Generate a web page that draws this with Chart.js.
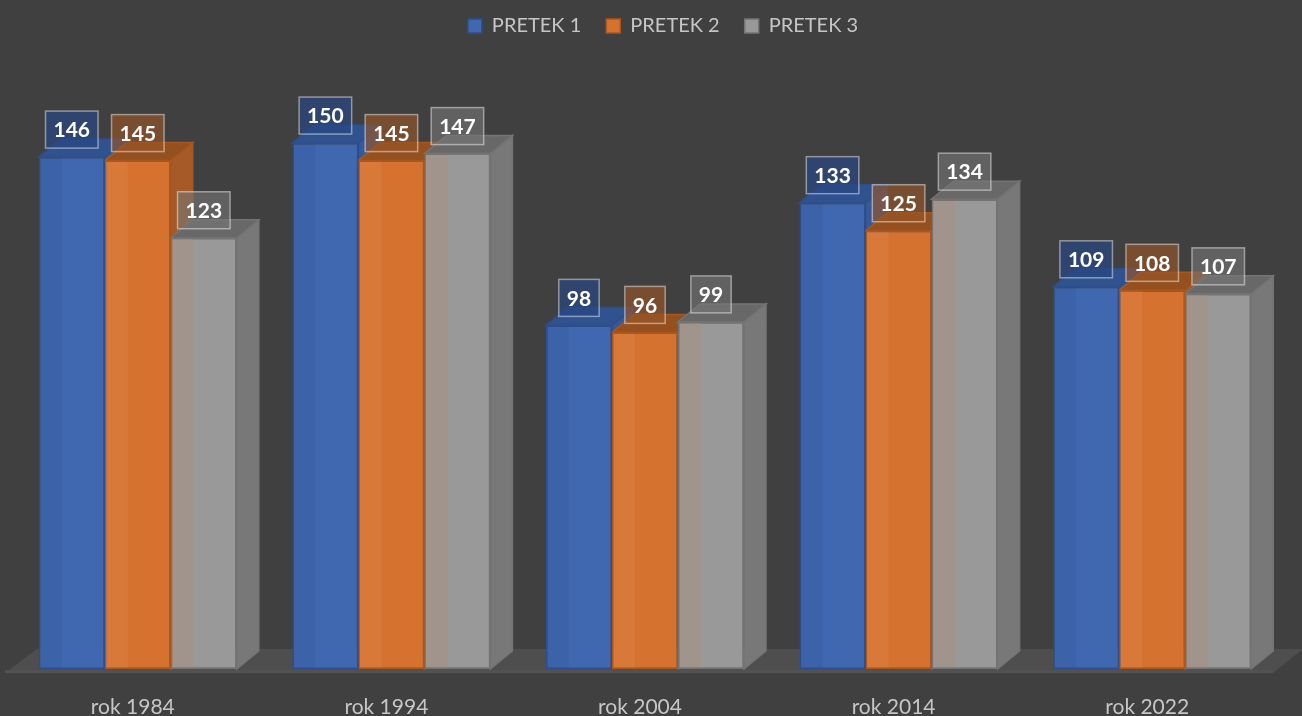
<!DOCTYPE html>
<html>
<head>
<meta charset="utf-8">
<script src="https://cdn.jsdelivr.net/npm/chart.js@4.4.0/dist/chart.umd.min.js"></script>
<style>
    html, body { margin: 0; padding: 0; background: #404040; }
    #contenedor { width: 1302px; height: 716px; position: relative; }
</style>
</head>
<body>
<div id="contenedor"><canvas id="grafico"></canvas></div>
<script>
// Datos
const categories = ['rok 1984', 'rok 1994', 'rok 2004', 'rok 2014', 'rok 2022'];
const seriesNames = ['PRETEK 1', 'PRETEK 2', 'PRETEK 3'];
const pretek1 = [146, 150, 98, 133, 109];
const pretek2 = [145, 145, 96, 125, 108];
const pretek3 = [123, 147, 99, 134, 107];

// Colores por serie: frente, borde, cara superior, cara lateral, caja de etiqueta
const frontColor = ['#4068b0', '#d6722f', '#999999'];
const borderColor = ['#2e4e8c', '#a9561f', '#747474'];
const topColor = ['#30528f', '#95501f', '#686868'];
const sideColor = ['#36599a', '#a65a27', '#787878'];
const labelFill = ['rgba(40,70,130,0.72)', 'rgba(150,85,40,0.66)', 'rgba(118,118,118,0.62)'];
// tinte de la pared interior que se ve a traves del frente (semi transparente)
const innerTint = ['rgba(0,0,40,0.05)', 'rgba(255,255,255,0.05)', 'rgba(214,116,50,0.12)'];

const DX = 22;   // profundidad 3D horizontal
const DY = 18;   // profundidad 3D vertical

// Suelo y caras 3D (se dibujan antes que los frentes de Chart.js)
const barras3d = {
    id: 'barras3d',
    beforeInit(chart) {
        // Agranda la leyenda para dejar el area del grafico donde esta en la referencia
        const fit = chart.legend.fit;
        chart.legend.fit = function () {
            fit.call(this);
            this.height = 117;
        };
    },
    afterLayout(chart) {
        // la leyenda de la referencia no esta centrada del todo
        chart.legend.left += 18;
        chart.legend.right += 18;
    },
    beforeDatasetsDraw(chart) {
        const ctx = chart.ctx;
        const area = chart.chartArea;
        const base = chart.scales.y.getPixelForValue(0);
        ctx.save();
        // suelo
        ctx.fillStyle = '#4e4e4e';
        ctx.beginPath();
        ctx.moveTo(area.left - 6, base + 4);
        ctx.lineTo(area.right - 6, base + 4);
        ctx.lineTo(area.right + 24, base - 20);
        ctx.lineTo(area.left + 26, base - 20);
        ctx.closePath();
        ctx.fill();
        ctx.fillStyle = '#525252';
        ctx.fillRect(area.left - 6, base + 1, area.right - area.left, 3);

        // caras superiores y laterales, de izquierda a derecha
        const metas = chart.data.datasets.map((d, i) => chart.getDatasetMeta(i));
        categories.forEach((c, j) => {
            metas.forEach((meta, i) => {
                const bar = meta.data[j];
                const p = bar.getProps(['x', 'y', 'base', 'width'], true);
                const l = p.x - p.width / 2, r = p.x + p.width / 2;
                ctx.lineWidth = 1.5;
                ctx.strokeStyle = borderColor[i];
                // lateral
                ctx.fillStyle = sideColor[i];
                ctx.beginPath();
                ctx.moveTo(r, p.y);
                ctx.lineTo(r + DX, p.y - DY);
                ctx.lineTo(r + DX, p.base - DY);
                ctx.lineTo(r, p.base);
                ctx.closePath();
                ctx.fill();
                ctx.stroke();
                // superior
                ctx.fillStyle = topColor[i];
                ctx.beginPath();
                ctx.moveTo(l, p.y);
                ctx.lineTo(l + DX, p.y - DY);
                ctx.lineTo(r + DX, p.y - DY);
                ctx.lineTo(r, p.y);
                ctx.closePath();
                ctx.fill();
                ctx.stroke();
            });
        });
        ctx.restore();
    },
    afterDatasetsDraw(chart) {
        const ctx = chart.ctx;
        ctx.save();
        // franja interior en el frente de cada barra
        chart.data.datasets.forEach((ds, i) => {
            chart.getDatasetMeta(i).data.forEach((bar) => {
                const p = bar.getProps(['x', 'y', 'base', 'width'], true);
                const l = p.x - p.width / 2;
                ctx.fillStyle = innerTint[i];
                ctx.fillRect(l + 1, p.y + 1, DX, p.base - p.y - 2);
            });
        });
        // Etiquetas de datos con caja semitransparente
        ctx.font = 'bold 21px Lato';
        ctx.textAlign = 'center';
        ctx.textBaseline = 'middle';
        chart.data.datasets.forEach((ds, i) => {
            chart.getDatasetMeta(i).data.forEach((bar, j) => {
                const p = bar.getProps(['x', 'y'], true);
                const txt = String(ds.data[j]);
                const w = ctx.measureText(txt).width + 16;
                const h = 37;
                const cy = p.y - 27.5;
                ctx.fillStyle = labelFill[i];
                ctx.fillRect(p.x - w / 2, cy - h / 2, w, h);
                ctx.strokeStyle = 'rgba(255,255,255,0.45)';
                ctx.lineWidth = 1.5;
                ctx.strokeRect(p.x - w / 2, cy - h / 2, w, h);
                ctx.fillStyle = '#ffffff';
                ctx.fillText(txt, p.x, cy + 1);
            });
        });
        ctx.restore();
    }
};

const valores = [pretek1, pretek2, pretek3];

const chart = new Chart(document.getElementById('grafico').getContext('2d'), {
    type: 'bar',
    data: {
        labels: categories,
        datasets: seriesNames.map((name, i) => ({
            label: name,
            data: valores[i],
            backgroundColor: frontColor[i],
            borderColor: borderColor[i],
            borderWidth: 1.5,
            borderSkipped: false,
            barPercentage: 1,
            categoryPercentage: 0.781
        }))
    },
    options: {
        responsive: true,
        maintainAspectRatio: false,
        animation: false,
        layout: { padding: { top: -9, left: 11, right: 23, bottom: 0 } },
        scales: {
            x: {
                grid: { display: false, drawTicks: false },
                border: { display: false },
                ticks: {
                    color: '#c6c6c6',
                    font: { family: 'Lato', size: 21 },
                    padding: 26,
                    labelOffset: -5
                },
                afterFit(scale) { scale.height = 47; }
            },
            y: {
                display: false,
                min: 0,
                max: 160
            }
        },
        plugins: {
            legend: {
                position: 'top',
                labels: {
                    color: '#c6c6c6',
                    font: { family: 'Lato', size: 20 },
                    boxWidth: 14,
                    boxHeight: 14,
                    padding: 25
                }
            },
            tooltip: { enabled: false }
        }
    },
    plugins: [barras3d]
});
</script>
</body>
</html>
